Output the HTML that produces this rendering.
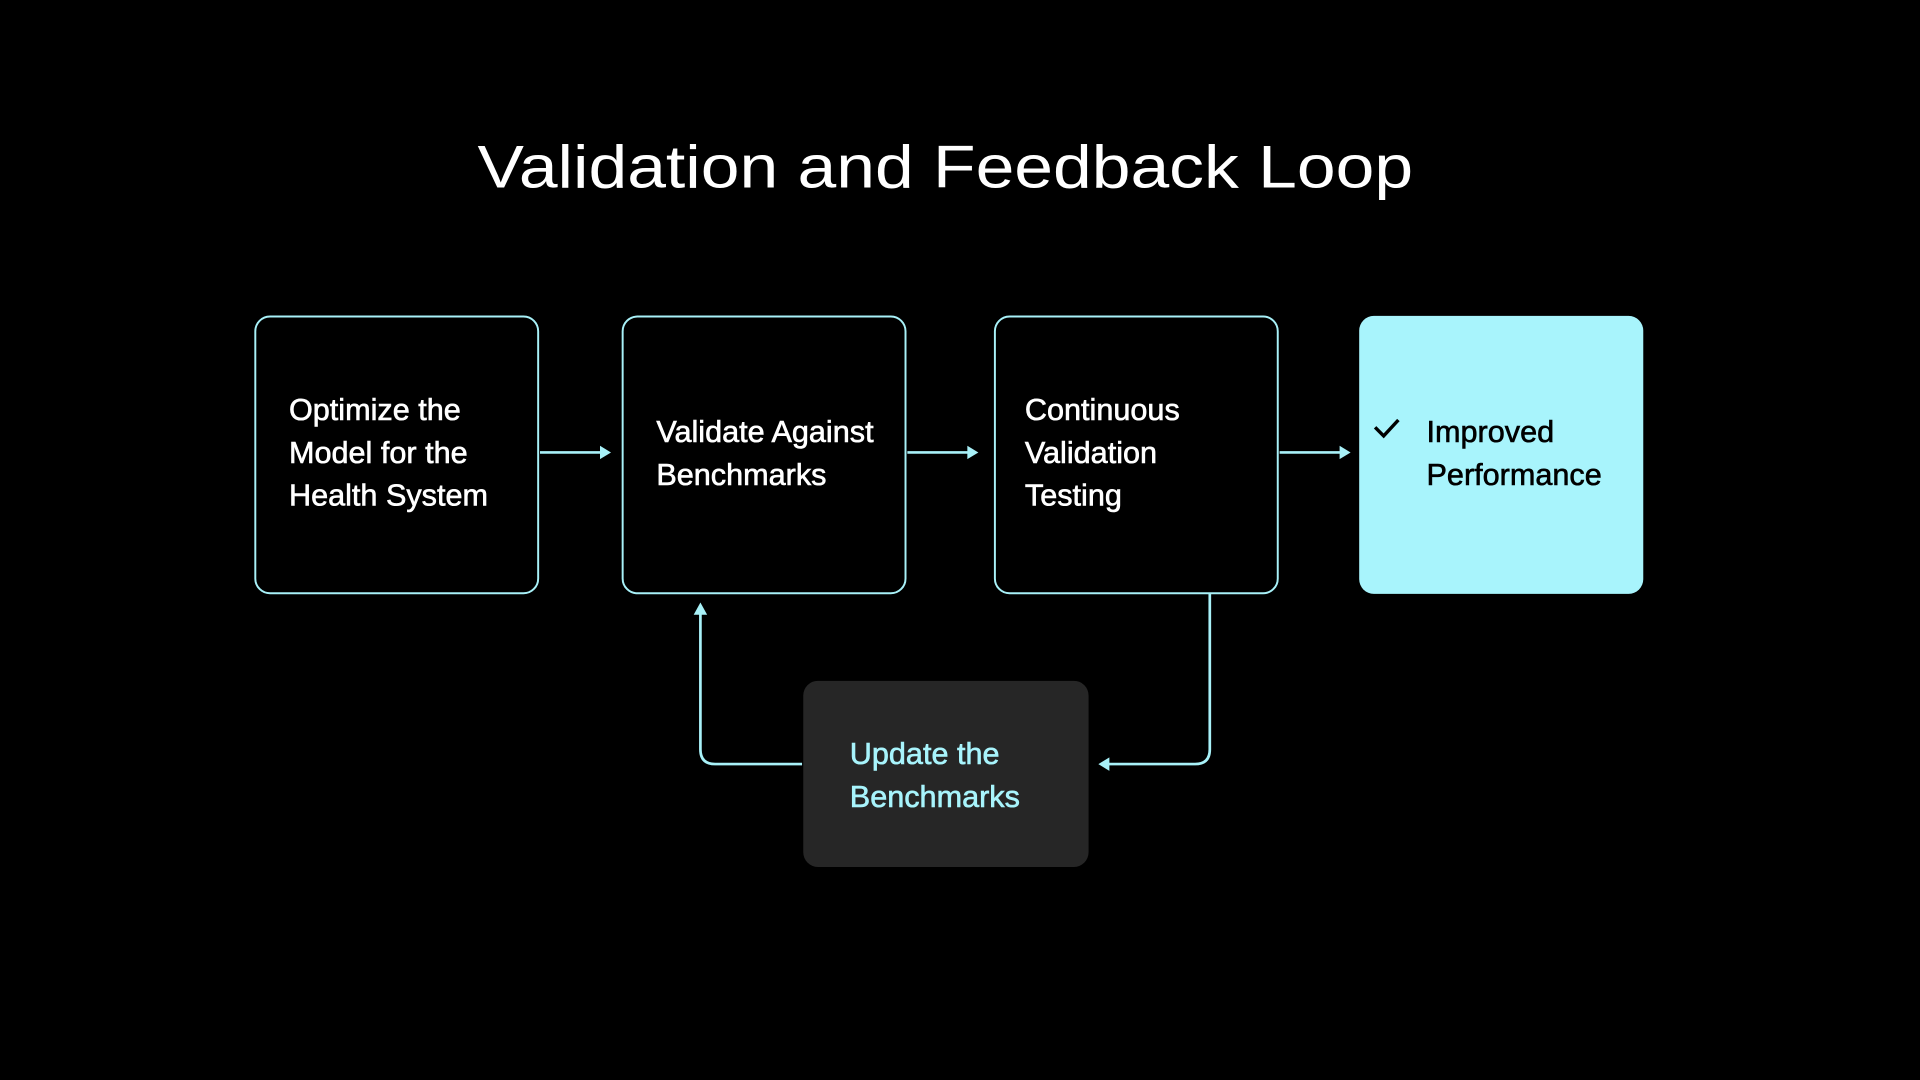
<!DOCTYPE html>
<html><head><meta charset="utf-8"><style>
html,body{margin:0;padding:0;background:#000;width:1920px;height:1080px;overflow:hidden}
svg{display:block}
text{font-family:"Liberation Sans",sans-serif}
</style></head><body>
<svg width="1920" height="1080" viewBox="0 0 1568 882" xmlns="http://www.w3.org/2000/svg">
<rect width="1568" height="882" fill="#000"/>
<text x="772" y="153" text-anchor="middle" fill="#fff" font-size="49" textLength="764" lengthAdjust="spacingAndGlyphs">Validation and Feedback Loop</text>
<g fill="none" stroke="#a8f1f8" stroke-width="1.6">
<rect x="208.5" y="258.5" width="231" height="226" rx="12"/>
<rect x="508.5" y="258.5" width="231" height="226" rx="12"/>
<rect x="812.5" y="258.5" width="231" height="226" rx="12"/>
</g>
<rect x="1110" y="258" width="232" height="227" rx="12" fill="#a8f4fc"/>
<rect x="656" y="556" width="233" height="152" rx="12" fill="#262626"/>
<g stroke="#a8f1f8" stroke-width="2.2" fill="none">
<line x1="441" y1="369.5" x2="492" y2="369.5"/>
<line x1="741" y1="369.5" x2="792" y2="369.5"/>
<line x1="1045" y1="369.5" x2="1096" y2="369.5"/>
<path d="M988 485 V612 Q988 624 976 624 H904"/>
<path d="M655 624 H584 Q572 624 572 612 V500"/>
</g>
<g fill="#a8f1f8">
<path d="M499 369.5 L490 364 L490 375 Z"/>
<path d="M799 369.5 L790 364 L790 375 Z"/>
<path d="M1103 369.5 L1094 364 L1094 375 Z"/>
<path d="M897 624 L906 618.5 L906 629.5 Z"/>
<path d="M572 492 L566.5 502 L577.5 502 Z"/>
</g>
<g fill="#fff" stroke="#fff" stroke-width="0.5" font-size="25">
<text x="236" y="343">Optimize the</text>
<text x="236" y="378">Model for the</text>
<text x="236" y="413">Health System</text>
<text x="536" y="361">Validate Against</text>
<text x="536" y="396">Benchmarks</text>
<text x="837" y="343">Continuous</text>
<text x="837" y="378">Validation</text>
<text x="837" y="413">Testing</text>
</g>
<g fill="#000" stroke="#000" stroke-width="0.5" font-size="25">
<text x="1165" y="361">Improved</text>
<text x="1165" y="396">Performance</text>
</g>
<path d="M1123 349 L1130 356 L1142 343" stroke="#000" stroke-width="2.8" fill="none"/>
<g fill="#a8f4fc" stroke="#a8f4fc" stroke-width="0.5" font-size="25">
<text x="694" y="624">Update the</text>
<text x="694" y="659">Benchmarks</text>
</g>
</svg>
</body></html>
